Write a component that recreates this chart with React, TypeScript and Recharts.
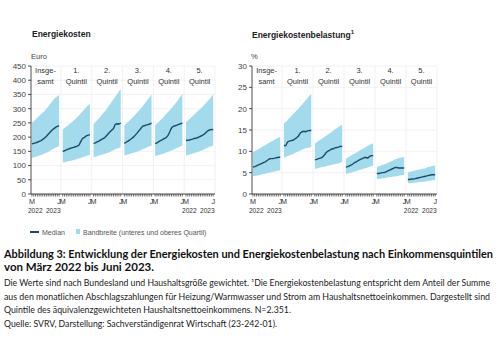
import React from 'react';
import { ComposedChart, Area, Line, XAxis, YAxis, CartesianGrid, ReferenceLine } from 'recharts';

// ---- data ----
const panelLabels = [['Insge-', 'samt'], ['1.', 'Quintil'], ['2.', 'Quintil'], ['3.', 'Quintil'], ['4.', 'Quintil'], ['5.', 'Quintil']];
const monthCount = 16; // März 2022 .. Juni 2023
const costTicks = [0, 50, 100, 150, 200, 250, 300, 350, 400, 450];
const burdenTicks = [0, 5, 10, 15, 20, 25, 30];

const costMedian = [
  [176, 178, 180, 182, 185, 188, 192, 197, 203, 210, 217, 224, 229, 234, 238, 240],
  [150, 152, 155, 158, 160, 162, 164, 166, 168, 172, 185, 196, 199, 204, 207, 208],
  [178, 180, 183, 186, 190, 194, 197, 204, 211, 218, 224, 230, 245, 247, 246, 249],
  [178, 182, 186, 190, 195, 200, 207, 214, 222, 230, 238, 240, 242, 244, 246, 249],
  [177, 180, 184, 188, 191, 195, 198, 205, 218, 232, 238, 240, 242, 245, 247, 249],
  [188, 189, 190, 192, 194, 196, 197, 200, 203, 206, 210, 216, 222, 225, 227, 226],
];
const costHigh = [
  [250, 256, 262, 268, 274, 280, 286, 292, 300, 308, 316, 324, 332, 338, 344, 348],
  [227, 232, 237, 242, 247, 252, 258, 264, 270, 277, 284, 291, 298, 305, 311, 318],
  [245, 252, 259, 266, 273, 281, 289, 297, 306, 315, 324, 333, 342, 351, 360, 369],
  [241, 247, 253, 259, 265, 272, 279, 286, 293, 300, 308, 316, 324, 332, 341, 350],
  [242, 248, 254, 260, 266, 273, 280, 287, 294, 301, 309, 317, 325, 334, 343, 352],
  [253, 258, 264, 270, 276, 282, 288, 294, 300, 306, 313, 320, 327, 334, 342, 350],
];
const costLow = [
  [127, 129, 131, 133, 135, 137, 139, 142, 145, 148, 152, 156, 160, 163, 166, 168],
  [111, 112, 113, 115, 116, 118, 119, 121, 123, 125, 127, 129, 132, 134, 136, 138],
  [129, 131, 133, 135, 137, 139, 141, 143, 145, 148, 151, 154, 157, 160, 162, 164],
  [135, 137, 139, 141, 143, 145, 147, 149, 151, 154, 157, 160, 163, 166, 168, 170],
  [133, 135, 137, 139, 141, 143, 146, 148, 150, 153, 156, 159, 162, 165, 168, 170],
  [135, 137, 139, 141, 143, 145, 147, 149, 151, 154, 157, 160, 163, 166, 168, 170],
];

const burdenMedian = [
  [6.3, 6.4, 6.6, 6.8, 7.0, 7.2, 7.4, 7.6, 7.9, 8.2, 8.3, 8.3, 8.4, 8.5, 8.6, 8.6],
  [11.4, 11.3, 12.2, 12.4, 12.5, 12.6, 12.9, 13.2, 13.6, 14.3, 14.6, 14.7, 14.6, 14.8, 14.9, 14.9],
  [8.0, 8.1, 8.3, 8.4, 8.6, 9.0, 9.6, 10.0, 10.2, 10.5, 10.6, 10.8, 10.9, 11.0, 11.2, 11.1],
  [6.3, 6.4, 6.6, 6.8, 7.1, 7.4, 7.6, 7.9, 8.1, 8.3, 8.5, 8.6, 8.4, 8.8, 9.0, 9.0],
  [4.8, 4.8, 4.9, 5.0, 5.0, 5.2, 5.4, 5.6, 5.8, 6.0, 6.2, 6.2, 6.1, 6.1, 6.1, 6.1],
  [3.4, 3.4, 3.5, 3.5, 3.6, 3.7, 3.8, 3.9, 4.0, 4.1, 4.2, 4.3, 4.4, 4.5, 4.5, 4.5],
];
const burdenHigh = [
  [9.8, 10.0, 10.3, 10.5, 10.8, 11.0, 11.3, 11.5, 11.8, 12.0, 12.3, 12.5, 12.8, 13.0, 13.2, 13.4],
  [16.5, 16.9, 17.3, 17.8, 18.2, 18.7, 19.1, 19.6, 20.0, 20.5, 21.0, 21.5, 22.0, 22.5, 23.0, 23.5],
  [11.8, 12.1, 12.4, 12.7, 13.0, 13.3, 13.6, 13.9, 14.2, 14.5, 14.8, 15.1, 15.4, 15.7, 16.0, 16.2],
  [8.3, 8.5, 8.8, 9.0, 9.3, 9.5, 9.8, 10.0, 10.3, 10.5, 10.8, 11.0, 11.3, 11.5, 11.7, 11.9],
  [6.3, 6.5, 6.6, 6.8, 6.9, 7.1, 7.3, 7.5, 7.7, 7.9, 8.1, 8.3, 8.4, 8.5, 8.6, 8.6],
  [5.1, 5.2, 5.3, 5.4, 5.5, 5.6, 5.7, 5.8, 5.9, 6.0, 6.1, 6.3, 6.4, 6.5, 6.6, 6.7],
];
const burdenLow = [
  [4.1, 4.2, 4.3, 4.4, 4.5, 4.6, 4.7, 4.8, 4.9, 5.0, 5.1, 5.2, 5.3, 5.4, 5.5, 5.5],
  [8.5, 8.7, 8.9, 9.0, 9.2, 9.4, 9.6, 9.8, 10.0, 10.2, 10.4, 10.6, 10.7, 10.8, 10.9, 11.0],
  [5.9, 6.0, 6.1, 6.2, 6.3, 6.4, 6.5, 6.6, 6.7, 6.8, 6.9, 7.0, 7.1, 7.2, 7.4, 7.5],
  [4.7, 4.8, 4.9, 5.0, 5.2, 5.3, 5.4, 5.6, 5.7, 5.8, 6.0, 6.1, 6.2, 6.4, 6.5, 6.7],
  [3.5, 3.5, 3.6, 3.7, 3.7, 3.8, 3.9, 3.9, 4.0, 4.1, 4.1, 4.2, 4.3, 4.4, 4.4, 4.5],
  [2.5, 2.5, 2.6, 2.6, 2.7, 2.7, 2.8, 2.8, 2.9, 2.9, 3.0, 3.0, 3.1, 3.2, 3.2, 3.3],
];

// ---- layout helpers ----
const SLOT = 17;
const BAND = '#a3daec';
const MED = '#1c4a6b';
const FONT = '"Liberation Sans", Arial, sans-serif';

function buildRows(med: number[][], low: number[][], high: number[][]) {
  const rows: any[] = [];
  med.forEach((series, p) => {
    series.forEach((v, m) => {
      rows.push({ x: p * SLOT + m, ['band' + p]: [low[p][m], high[p][m]], ['med' + p]: v });
    });
  });
  return rows;
}

const xTicks: number[] = [];
for (let p = 0; p < 6; p++) for (let m = 0; m < monthCount; m++) xTicks.push(p * SLOT + m);
const separators = [1, 2, 3, 4, 5, 6].map((p) => p * SLOT - 1);

const MonthTick = (props: any) => {
  const { x, y, payload } = props;
  const v = payload.value as number;
  const p = Math.floor(v / SLOT);
  const m = v - p * SLOT;
  return (
    <g>
      <line x1={x} x2={x} y1={y} y2={y + 2.5} stroke="#333" strokeWidth={0.7} />
      {m === 0 && (
        <text x={x} y={y + 9.5} fontSize={7.2} fill="#333" textAnchor="middle" fontFamily={FONT}>M</text>
      )}
      {m === monthCount - 1 && (
        <text x={x} y={y + 9.5} fontSize={7.2} fill="#333" textAnchor="middle" fontFamily={FONT}>J</text>
      )}
      {(p === 0 || p === 5) && m === 0 && (
        <text x={x - 4} y={y + 19} fontSize={6.6} fill="#333" textAnchor="start" fontFamily={FONT}>2022</text>
      )}
      {(p === 0 || p === 5) && m === monthCount - 1 && (
        <text x={x + 1.5} y={y + 19} fontSize={6.6} fill="#333" textAnchor="end" fontFamily={FONT}>2023</text>
      )}
    </g>
  );
};

const makeHeader = (lines: string[]) => (props: any) => {
  const vb = props.viewBox || {};
  const cx = vb.x;
  const top = vb.y;
  return (
    <g>
      <text x={cx} y={top + 7} fontSize={7.5} fill="#333" textAnchor="middle" fontFamily={FONT}>{lines[0]}</text>
      <text x={cx} y={top + 18} fontSize={7.5} fill="#333" textAnchor="middle" fontFamily={FONT}>{lines[1]}</text>
    </g>
  );
};

function Panel({ rows, yMax, yTicks, width }: { rows: any[]; yMax: number; yTicks: number[]; width: number }) {
  return (
    <ComposedChart width={width} height={218} data={rows} margin={{ top: 66, right: 10, bottom: 0, left: 0 }}>
      <CartesianGrid vertical={false} stroke="#efefef" strokeWidth={0.8} />
      {separators.map((s) => (
        <ReferenceLine key={s} x={s} stroke="#eeeeee" strokeWidth={0.8} ifOverflow="visible" />
      ))}
      <XAxis
        dataKey="x"
        type="number"
        domain={[-0.5, 101]}
        ticks={xTicks}
        interval={0}
        tick={<MonthTick />}
        tickLine={false}
        tickSize={0}
        tickMargin={0}
        axisLine={{ stroke: '#222', strokeWidth: 0.8 }}
        height={24}
        allowDataOverflow
      />
      <YAxis
        type="number"
        domain={[0, yMax]}
        ticks={yTicks}
        interval={0}
        width={31}
        tickSize={3}
        tickMargin={2}
        axisLine={{ stroke: '#222', strokeWidth: 0.8 }}
        tickLine={{ stroke: '#222', strokeWidth: 0.8 }}
        tick={{ fontSize: 8, fill: '#444', fontFamily: FONT }}
      />
      {panelLabels.map((_, p) => (
        <Area
          key={'a' + p}
          type="linear"
          dataKey={'band' + p}
          stroke="none"
          fill={BAND}
          fillOpacity={1}
          isAnimationActive={false}
          activeDot={false}
          dot={false}
        />
      ))}
      {panelLabels.map((_, p) => (
        <Line
          key={'l' + p}
          type="linear"
          dataKey={'med' + p}
          stroke={MED}
          strokeWidth={1.4}
          dot={false}
          activeDot={false}
          isAnimationActive={false}
        />
      ))}
      {panelLabels.map((lines, p) => (
        <ReferenceLine
          key={'h' + p}
          x={p * SLOT + (monthCount - 1) / 2}
          stroke="#ffffff"
          strokeOpacity={0}
          label={makeHeader(lines)}
        />
      ))}
    </ComposedChart>
  );
}

const costRows = buildRows(costMedian, costLow, costHigh);
const burdenRows = buildRows(burdenMedian, burdenLow, burdenHigh);

const captionTitle = [
  { t: 'Abbildung 3: Entwicklung der Energiekosten und Energiekostenbelastung nach Einkommensquintilen', w: 489 },
  { t: 'von März 2022 bis Juni 2023.', w: 150 },
];
const captionBody = [
  { t: 'Die Werte sind nach Bundesland und Haushaltsgröße gewichtet. ¹Die Energiekostenbelastung entspricht dem Anteil der Summe', w: 486 },
  { t: 'aus den monatlichen Abschlagszahlungen für Heizung/Warmwasser und Strom am Haushaltsnettoeinkommen. Dargestellt sind', w: 486 },
  { t: 'Quintile des äquivalenzgewichteten Haushaltsnettoeinkommens. N=2.351.', w: 287 },
  { t: 'Quelle: SVRV, Darstellung: Sachverständigenrat Wirtschaft (23-242-01).', w: 273 },
];

export default function App() {
  return (
    <div style={{ position: 'absolute', left: 0, top: 0, width: 500, height: 353, background: '#fff', overflow: 'hidden', fontFamily: FONT }}>
      <div style={{ position: 'absolute', left: 32, top: 29, fontSize: 8.5, fontWeight: 'bold', color: '#222' }}>Energiekosten</div>
      <div style={{ position: 'absolute', left: 252, top: 29, fontSize: 8.5, fontWeight: 'bold', color: '#222' }}>
        Energiekostenbelastung<sup style={{ fontSize: 6 }}>1</sup>
      </div>
      <div style={{ position: 'absolute', left: 31, top: 52, fontSize: 7.5, color: '#444' }}>Euro</div>
      <div style={{ position: 'absolute', left: 251, top: 52, fontSize: 7.5, color: '#444' }}>%</div>

      <div style={{ position: 'absolute', left: 0, top: 0 }}>
        <Panel rows={costRows} yMax={450} yTicks={costTicks} width={225} />
      </div>
      <div style={{ position: 'absolute', left: 221, top: 0 }}>
        <Panel rows={burdenRows} yMax={30} yTicks={burdenTicks} width={226} />
      </div>

      <svg width={500} height={30} style={{ position: 'absolute', left: 0, top: 220 }}>
        <line x1={30} x2={39} y1={12} y2={12} stroke={MED} strokeWidth={2} />
        <text x={42} y={14.5} fontSize={7} fill="#555" fontFamily={FONT}>Median</text>
        <rect x={76} y={9} width={4} height={5} fill={BAND} />
        <text x={83} y={14.5} fontSize={7} fill="#555" fontFamily={FONT}>Bandbreite (unteres und oberes Quartil)</text>
      </svg>

      <svg width={500} height={110} style={{ position: 'absolute', left: 0, top: 243 }}>
        {captionTitle.map((c, i) => (
          <text key={i} x={4} y={15 + i * 13} fontSize={11} fontWeight="bold" fill="#111" fontFamily="Lato, sans-serif" textLength={c.w} lengthAdjust="spacingAndGlyphs">{c.t}</text>
        ))}
        {captionBody.map((c, i) => (
          <text key={i} x={4} y={43 + i * 13.5} fontSize={8.6} fill="#222" fontFamily="Lato, sans-serif" textLength={c.w} lengthAdjust="spacingAndGlyphs">{c.t}</text>
        ))}
      </svg>
    </div>
  );
}
